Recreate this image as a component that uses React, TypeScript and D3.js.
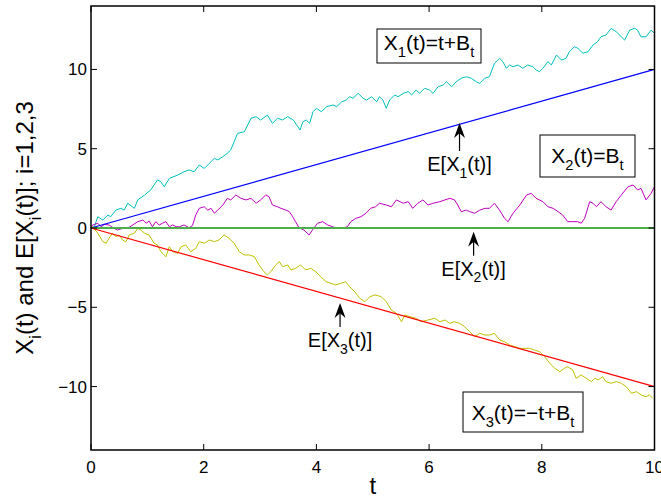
import React from 'react';
import * as d3 from 'd3';

// ---------- data ----------
const X_TICKS = [0, 2, 4, 6, 8, 10];
const Y_TICKS = [-10, -5, 0, 5, 10];
const X_DOMAIN: [number, number] = [0, 10];
const Y_DOMAIN: [number, number] = [-14, 14];

// X1(t) = t + B_t  (cyan)
const X1_PATH: [number, number][] = [
  [0, 0], [0.06, 0.08], [0.12, 0.71], [0.21, 0.5], [0.3, 0.82], [0.35, 0.71], [0.44, 1.13], [0.53, 1.24],
  [0.59, 1.13], [0.65, 1.56], [0.77, 1.24], [0.83, 1.77], [0.95, 2.08], [1.06, 2.4], [1.18, 3.03], [1.24, 2.92],
  [1.3, 2.6], [1.39, 3.13], [1.54, 3.34], [1.65, 3.55], [1.74, 3.66], [1.83, 3.55], [1.92, 3.97], [2.01, 3.76],
  [2.1, 4.08], [2.19, 4.39], [2.25, 4.29], [2.34, 4.5], [2.42, 4.71], [2.48, 4.92], [2.54, 5.44], [2.6, 5.97],
  [2.72, 6.07], [2.78, 6.49], [2.84, 6.92], [2.93, 7.02], [3.01, 6.81], [3.13, 7.12], [3.22, 6.6], [3.31, 6.92],
  [3.4, 6.81], [3.49, 7.02], [3.59, 6.81], [3.71, 6.18], [3.76, 6.7], [3.82, 6.81], [3.88, 6.6], [3.94, 7.33],
  [4.0, 7.55], [4.09, 7.33], [4.18, 7.65], [4.3, 7.76], [4.36, 7.65], [4.45, 7.96], [4.53, 8.07], [4.59, 8.28],
  [4.65, 8.18], [4.74, 8.49], [4.83, 8.18], [4.89, 8.07], [4.98, 8.28], [5.07, 7.96], [5.12, 8.28], [5.18, 8.07],
  [5.24, 7.55], [5.3, 8.07], [5.39, 8.39], [5.45, 8.28], [5.54, 8.49], [5.63, 8.6], [5.69, 8.39], [5.77, 8.7],
  [5.83, 8.49], [5.92, 8.81], [6.01, 8.7], [6.07, 8.49], [6.16, 8.91], [6.25, 9.02], [6.31, 9.22], [6.4, 8.91],
  [6.48, 9.22], [6.57, 9.44], [6.66, 9.54], [6.75, 9.44], [6.84, 9.22], [6.9, 9.12], [6.99, 9.44], [7.07, 9.54],
  [7.16, 10.38], [7.25, 10.7], [7.31, 10.49], [7.37, 10.07], [7.43, 10.28], [7.49, 10.17], [7.58, 10.28],
  [7.66, 10.07], [7.75, 10.28], [7.84, 10.17], [7.9, 9.96], [7.96, 9.86], [8.02, 10.07], [8.11, 10.49],
  [8.17, 10.28], [8.26, 10.91], [8.35, 10.59], [8.43, 10.7], [8.49, 11.12], [8.58, 11.43], [8.64, 11.33],
  [8.73, 11.02], [8.82, 11.12], [8.91, 11.54], [8.99, 11.75], [9.05, 12.06], [9.14, 12.17], [9.23, 12.59],
  [9.32, 12.38], [9.41, 12.06], [9.47, 11.85], [9.56, 12.48], [9.65, 12.59], [9.7, 12.48], [9.76, 12.06],
  [9.85, 12.06], [9.94, 12.48], [10.0, 12.28],
];

// X2(t) = B_t  (magenta)
const X2_PATH: [number, number][] = [
  [0, 0], [0.03, 0.19], [0.12, 0.3], [0.18, 0.08], [0.24, 0.23], [0.32, 0.19], [0.41, -0.02], [0.47, -0.13],
  [0.56, -0.02], [0.65, -0.02], [0.74, 0.19], [0.83, 0.4], [0.92, 0.5], [0.98, 0.3], [1.03, 0.44], [1.09, 0.08],
  [1.15, 0.4], [1.21, 0.19], [1.27, 0.3], [1.33, 0.4], [1.39, 0.08], [1.45, 0.19], [1.51, 0.08], [1.57, 0.08],
  [1.65, 0.19], [1.74, 0.02], [1.8, 0.15], [1.86, 0.82], [1.92, 1.24], [2.01, 1.34], [2.07, 1.13], [2.13, 1.24],
  [2.19, 0.93], [2.25, 1.13], [2.34, 1.45], [2.42, 1.87], [2.48, 1.77], [2.57, 2.08], [2.66, 1.87], [2.75, 1.77],
  [2.84, 1.87], [2.93, 1.56], [3.01, 1.77], [3.1, 2.08], [3.16, 1.97], [3.22, 1.45], [3.31, 1.34], [3.37, 1.24],
  [3.46, 1.13], [3.52, 1.03], [3.58, 0.71], [3.63, 0.4], [3.69, 0.02], [3.78, -0.13], [3.87, -0.44], [3.93, -0.13],
  [4.02, 0.3], [4.11, 0.4], [4.2, 0.19], [4.29, 0.08], [4.37, -0.02], [4.46, -0.02], [4.55, 0.08], [4.61, 0.4],
  [4.7, 0.61], [4.79, 0.71], [4.88, 0.93], [4.96, 1.24], [5.05, 1.34], [5.12, 1.56], [5.24, 1.45], [5.33, 1.34],
  [5.42, 1.77], [5.54, 1.56], [5.63, 1.66], [5.71, 1.24], [5.8, 1.56], [5.89, 1.77], [5.98, 1.45], [6.07, 1.56],
  [6.19, 1.66], [6.28, 1.77], [6.37, 1.87], [6.45, 1.77], [6.51, 1.45], [6.57, 1.03], [6.66, 1.13], [6.72, 1.03],
  [6.81, 0.93], [6.9, 1.13], [6.99, 1.24], [7.07, 1.24], [7.16, 1.56], [7.25, 1.13], [7.34, 0.61], [7.4, 0.4],
  [7.49, 0.93], [7.61, 1.45], [7.73, 2.08], [7.81, 2.19], [7.9, 1.87], [8.02, 1.66], [8.11, 1.34], [8.2, 1.24],
  [8.29, 1.03], [8.37, 0.82], [8.46, 0.4], [8.55, 0.4], [8.64, 0.4], [8.7, 0.3], [8.76, 0.61], [8.85, 1.66],
  [8.91, 1.56], [8.97, 1.34], [9.05, 1.66], [9.14, 1.34], [9.23, 1.13], [9.32, 1.66], [9.41, 2.08], [9.53, 2.6],
  [9.62, 2.71], [9.7, 2.4], [9.76, 2.5], [9.85, 1.77], [9.94, 2.19], [10.0, 2.6],
];

// X3(t) = -t + B_t  (olive / yellow)
const X3_PATH: [number, number][] = [
  [0, 0], [0.03, 0.08], [0.12, -0.33], [0.21, -0.86], [0.27, -0.96], [0.32, -0.65], [0.38, -0.33], [0.44, -0.55],
  [0.5, -0.44], [0.56, -0.76], [0.62, -0.86], [0.68, -0.44], [0.77, -0.33], [0.83, -0.02], [0.89, -0.13],
  [0.95, -0.33], [1.03, -0.44], [1.12, -0.96], [1.18, -1.07], [1.24, -1.49], [1.33, -1.81], [1.39, -1.18],
  [1.45, -1.49], [1.54, -1.6], [1.6, -1.18], [1.68, -1.07], [1.77, -1.49], [1.86, -1.28], [1.92, -0.86],
  [2.01, -0.96], [2.1, -0.76], [2.19, -0.86], [2.27, -0.76], [2.36, -0.44], [2.45, -0.65], [2.54, -0.96],
  [2.63, -1.49], [2.72, -1.7], [2.81, -1.7], [2.9, -1.81], [2.98, -2.33], [3.07, -2.76], [3.13, -2.96],
  [3.19, -2.76], [3.28, -2.33], [3.34, -2.12], [3.4, -2.44], [3.49, -2.33], [3.55, -2.65], [3.63, -2.54],
  [3.72, -2.33], [3.81, -2.65], [3.9, -2.54], [3.99, -2.76], [4.08, -3.07], [4.17, -3.39], [4.26, -3.49],
  [4.34, -3.59], [4.43, -3.49], [4.52, -3.39], [4.59, -3.7], [4.68, -4.02], [4.77, -4.43], [4.86, -4.65],
  [4.95, -4.33], [5.04, -4.22], [5.15, -4.33], [5.24, -4.65], [5.33, -5.17], [5.42, -5.38], [5.51, -5.91],
  [5.57, -5.49], [5.66, -5.59], [5.77, -5.69], [5.86, -5.91], [5.98, -5.8], [6.1, -5.69], [6.19, -5.91],
  [6.28, -5.8], [6.37, -6.01], [6.45, -5.91], [6.54, -6.01], [6.63, -6.22], [6.72, -6.54], [6.81, -6.85],
  [6.9, -6.64], [6.99, -6.75], [7.07, -6.75], [7.16, -6.64], [7.25, -7.06], [7.34, -7.17], [7.43, -7.38],
  [7.52, -7.48], [7.61, -7.59], [7.7, -7.59], [7.78, -7.59], [7.87, -7.69], [7.96, -7.8], [8.05, -8.11],
  [8.14, -8.53], [8.23, -8.85], [8.32, -9.06], [8.4, -8.85], [8.46, -8.75], [8.55, -8.95], [8.61, -9.48],
  [8.7, -9.27], [8.79, -9.48], [8.88, -9.69], [8.94, -9.48], [9.0, -9.58], [9.08, -9.38], [9.14, -9.69],
  [9.23, -9.79], [9.32, -9.69], [9.41, -9.79], [9.5, -10.01], [9.59, -10.42], [9.68, -10.32], [9.76, -10.53],
  [9.85, -10.64], [9.91, -10.53], [9.97, -10.74],
];

// Expected values E[X_i(t)]
const E_TIMES = [0, 10];
const E1_VALUES = [0, 10];
const E2_VALUES = [0, 0];
const E3_VALUES = [0, -10];

// ---------- helpers ----------
const FONT = "'Liberation Sans', Arial, Helvetica, sans-serif";

type Seg = { t: string; sub?: boolean };

function SubText({ segs, size, ...rest }: { segs: Seg[]; size: number; [k: string]: any }) {
  const shift = size * 0.33;
  let down = false;
  return (
    <text fontFamily={FONT} fontSize={size} fill="#000" {...rest}>
      {segs.map((s, i) => {
        let dy = 0;
        if (s.sub && !down) { dy = shift; down = true; }
        else if (!s.sub && down) { dy = -shift; down = false; }
        return (
          <tspan key={i} dy={dy || undefined} fontSize={s.sub ? size * 0.7 : size}>
            {s.t}
          </tspan>
        );
      })}
    </text>
  );
}

function Arrow({ x, yTip, len }: { x: number; yTip: number; len: number }) {
  const hl = 15, hw = 5.5;
  return (
    <g>
      <line x1={x} y1={yTip + len} x2={x} y2={yTip + hl * 0.6} stroke="#000" strokeWidth={1.2} />
      <path
        d={`M${x},${yTip} L${x - hw},${yTip + hl} L${x},${yTip + hl * 0.68} L${x + hw},${yTip + hl} Z`}
        fill="#000"
      />
    </g>
  );
}

export default function App() {
  const W = 661, H = 499;
  const x = d3.scaleLinear().domain(X_DOMAIN).range([91, 654.5]);
  const y = d3.scaleLinear().domain(Y_DOMAIN).range([450, 6]);
  const line = d3.line<[number, number]>().x(d => x(d[0])).y(d => y(d[1]));
  const ePairs = (vals: number[]) => E_TIMES.map((t, i) => [t, vals[i]] as [number, number]);

  const x0 = x(X_DOMAIN[0]), x1 = x(X_DOMAIN[1]);
  const y0 = y(Y_DOMAIN[0]), y1 = y(Y_DOMAIN[1]);
  const tick = 6;

  const annotations = [
    { segs: [{ t: 'E[X' }, { t: '1', sub: true }, { t: '(t)]' }], tip: [6.54, 6.62], len: 28 },
    { segs: [{ t: 'E[X' }, { t: '2', sub: true }, { t: '(t)]' }], tip: [6.79, -0.23], len: 24 },
    { segs: [{ t: 'E[X' }, { t: '3', sub: true }, { t: '(t)]' }], tip: [4.42, -4.73], len: 24 },
  ];

  const boxes = [
    { segs: [{ t: 'X' }, { t: '1', sub: true }, { t: '(t)=t+B' }, { t: 't', sub: true }], x: 377, y: 29, w: 104, h: 34, base: 21 },
    { segs: [{ t: 'X' }, { t: '2', sub: true }, { t: '(t)=B' }, { t: 't', sub: true }], x: 540, y: 135, w: 95, h: 42, base: 28 },
    { segs: [{ t: 'X' }, { t: '3', sub: true }, { t: '(t)=\u2212t+B' }, { t: 't', sub: true }], x: 463, y: 392, w: 120, h: 40, base: 28 },
  ];

  return (
    <svg width={W} height={H} style={{ position: 'absolute', left: 0, top: 0, background: '#fff' }}>
      <rect x={0} y={0} width={W} height={H} fill="#fff" />
      {/* data */}
      <path d={line(X1_PATH) || ''} fill="none" stroke="#00bfbf" strokeWidth={1} />
      <path d={line(X2_PATH) || ''} fill="none" stroke="#bf00bf" strokeWidth={1} />
      <path d={line(X3_PATH) || ''} fill="none" stroke="#bfbf00" strokeWidth={1} />
      <path d={line(ePairs(E1_VALUES)) || ''} fill="none" stroke="#0000ff" strokeWidth={1.2} />
      <path d={line(ePairs(E2_VALUES)) || ''} fill="none" stroke="#4caf4c" strokeWidth={2} />
      <path d={line(ePairs(E3_VALUES)) || ''} fill="none" stroke="#ff0000" strokeWidth={1.2} />

      {/* axes box */}
      <rect x={x0} y={y1} width={x1 - x0} height={y0 - y1} fill="none" stroke="#000" strokeWidth={1.5} />
      {X_TICKS.map(t => (
        <g key={'xt' + t}>
          <line x1={x(t)} x2={x(t)} y1={y0} y2={y0 - tick} stroke="#000" strokeWidth={1} />
          <line x1={x(t)} x2={x(t)} y1={y1} y2={y1 + tick} stroke="#000" strokeWidth={1} />
          <text x={x(t)} y={y0 + 23} textAnchor="middle" fontFamily={FONT} fontSize={17}>{t}</text>
        </g>
      ))}
      {Y_TICKS.map(v => (
        <g key={'yt' + v}>
          <line x1={x0} x2={x0 + tick} y1={y(v)} y2={y(v)} stroke="#000" strokeWidth={1} />
          <line x1={x1} x2={x1 - tick} y1={y(v)} y2={y(v)} stroke="#000" strokeWidth={1} />
          <text x={x0 - 4} y={y(v) + 6} textAnchor="end" fontFamily={FONT} fontSize={17}>
            {v < 0 ? '\u2212' + Math.abs(v) : String(v)}
          </text>
        </g>
      ))}

      {/* axis labels */}
      <text x={(x0 + x1) / 2} y={494} textAnchor="middle" fontFamily={FONT} fontSize={24}>t</text>
      <SubText
        transform="translate(33,228) rotate(-90)"
        textAnchor="middle"
        size={24}
        segs={[{ t: 'X' }, { t: 'i', sub: true }, { t: '(t) and E[X' }, { t: 'i', sub: true }, { t: '(t)]; i=1,2,3' }]}
      />

      {/* annotations */}
      {annotations.map((a, i) => {
        const ax = x(a.tip[0]);
        const ay = y(a.tip[1]);
        return (
          <g key={'an' + i}>
            <Arrow x={ax} yTip={ay} len={a.len} />
            <SubText x={ax} y={ay + a.len + 20} textAnchor="middle" size={20} segs={a.segs} />
          </g>
        );
      })}

      {/* text boxes */}
      {boxes.map((b, i) => (
        <g key={'bx' + i}>
          <rect x={b.x} y={b.y} width={b.w} height={b.h} fill="#fff" stroke="#000" strokeWidth={1} />
          <SubText x={b.x + b.w / 2} y={b.y + b.base} textAnchor="middle" size={21} segs={b.segs} />
        </g>
      ))}
    </svg>
  );
}
